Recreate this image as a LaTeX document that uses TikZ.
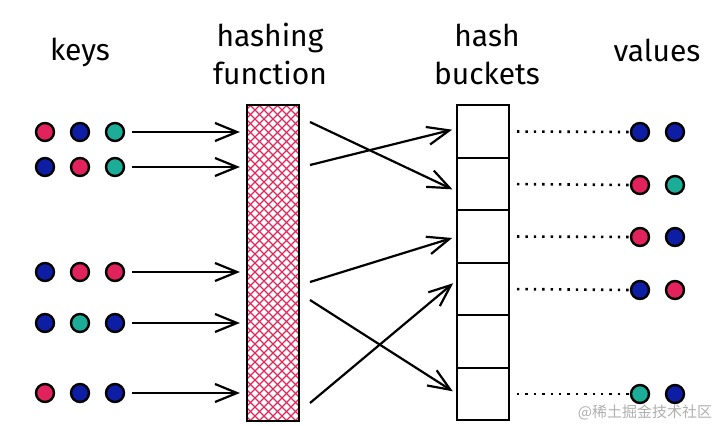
\documentclass[tikz,border=0pt]{standalone}
\usepackage{fontspec}
\setmainfont{Fira Sans}
\newfontfamily\cjkfont{Noto Sans CJK SC}
\usepackage{tikz}
\usetikzlibrary{arrows.meta, positioning}
\definecolor{keyred}{RGB}{226, 34, 92}
\definecolor{keyblue}{RGB}{14, 30, 164}
\definecolor{keyteal}{RGB}{28, 172, 152}
\definecolor{hatchpink}{RGB}{222, 40, 92}
\definecolor{markgray}{RGB}{175, 175, 175}

\begin{document}
\begin{tikzpicture}[x=1pt, y=-1pt,
      dot/.style={
        circle, draw=black, line width=2.4pt, fill=#1,
        minimum size=18pt, inner sep=0pt
      },
      bucket/.style={
        rectangle, draw=black, line width=2.2pt, outer sep=0pt,
        minimum width=52pt, minimum height=52.5pt
      },
      title/.style={font=\fontsize{30}{38}\selectfont, align=center},
      hatchline/.style={draw=hatchpink, line width=1.3pt},
      arr/.style={-{Straight Barb[length=22pt, width=18pt]}, line width=2.2pt},
      dotline/.style={line width=2.6pt, dash pattern=on 2.4pt off 6pt}
  ]
    \useasboundingbox (0,0) rectangle (716,426);

    % titles
    \node[title] (tkeys)   at (80,52)  {keys};
    \node[title] (thash)   at (270,54) {hashing\\function};
    \node[title] (tbucket) at (487,54) {hash\\buckets};
    \node[title] (tvalues) at (657,50) {values};

    % keys
    \node[dot=keyred]  (k11) at (45,132) {};
    \node[dot=keyblue] (k12) at (80,132) {};
    \node[dot=keyteal] (k13) at (115,132) {};
    \node[dot=keyblue] (k21) at (45,167) {};
    \node[dot=keyred]  (k22) at (80,167) {};
    \node[dot=keyteal] (k23) at (115,167) {};
    \node[dot=keyblue] (k31) at (45,272) {};
    \node[dot=keyred]  (k32) at (80,272) {};
    \node[dot=keyred]  (k33) at (115,272) {};
    \node[dot=keyblue] (k41) at (45,323) {};
    \node[dot=keyteal] (k42) at (80,323) {};
    \node[dot=keyblue] (k43) at (115,323) {};
    \node[dot=keyred]  (k51) at (45,393) {};
    \node[dot=keyblue] (k52) at (80,393) {};
    \node[dot=keyblue] (k53) at (115,393) {};

    % hashing function
    \node[draw=black, line width=2.2pt, minimum width=52pt, minimum height=316pt,
          path picture={
            \foreach \k in {0,...,42} {
              \draw[hatchline] ([xshift=\k*9pt-330pt]path picture bounding box.south west) -- ++(400pt,400pt);
              \draw[hatchline] ([xshift=\k*9pt-330pt]path picture bounding box.north west) -- ++(400pt,-400pt);
            }
          }] (hashfn) at (273,263) {};

    % hash buckets
    \node[bucket] (b1) at (483,131.5) {};
    \node[bucket] (b2) [below=0pt of b1] {};
    \node[bucket] (b3) [below=0pt of b2] {};
    \node[bucket] (b4) [below=0pt of b3] {};
    \node[bucket] (b5) [below=0pt of b4] {};
    \node[bucket] (b6) [below=0pt of b5] {};

    % values
    \node[dot=keyblue] (v11) at (640,132) {};
    \node[dot=keyblue] (v12) at (675,132) {};
    \node[dot=keyred]  (v21) at (640,185) {};
    \node[dot=keyteal] (v22) at (675,185) {};
    \node[dot=keyred]  (v31) at (640,237) {};
    \node[dot=keyblue] (v32) at (675,237) {};
    \node[dot=keyblue] (v41) at (640,290) {};
    \node[dot=keyred]  (v42) at (675,290) {};
    \node[dot=keyteal] (v51) at (640,394) {};
    \node[dot=keyblue] (v52) at (675,394) {};

    % keys into the hashing function
    \draw[arr, shorten <=7pt, shorten >=6pt] (k13) -- (k13 -| hashfn.west);
    \draw[arr, shorten <=7pt, shorten >=6pt] (k23) -- (k23 -| hashfn.west);
    \draw[arr, shorten <=7pt, shorten >=6pt] (k33) -- (k33 -| hashfn.west);
    \draw[arr, shorten <=7pt, shorten >=6pt] (k43) -- (k43 -| hashfn.west);
    \draw[arr, shorten <=7pt, shorten >=6pt] (k53) -- (k53 -| hashfn.west);

    % hashing function into the buckets
    \coordinate (h1) at (310,122);
    \coordinate (h2) at (310,165);
    \coordinate (h3) at (310,282);
    \coordinate (h4) at (310,300);
    \coordinate (h5) at (310,403);
    \draw[arr, shorten >=5pt] (h1) -- ([yshift=-7.5pt]b2.west);
    \draw[arr, shorten >=5pt] (h2) -- ([yshift=3pt]b1.west);
    \draw[arr, shorten >=5pt] (h3) -- (b3.west);
    \draw[arr, shorten >=5pt] (h4) -- (b6.west);
    \draw[arr, shorten >=5pt] (h5) -- ([yshift=9pt]b4.west);

    % buckets to values
    \draw[dotline, shorten <=8pt, shorten >=1pt] (b1.east) -- (v11.west);
    \draw[dotline, shorten <=8pt, shorten >=1pt] (b2.east) -- (v21.west);
    \draw[dotline, shorten <=8pt, shorten >=1pt] (b3.east) -- (v31.west);
    \draw[dotline, shorten <=8pt, shorten >=1pt] (b4.east) -- (v41.west);
    \draw[dotline, shorten <=8pt, shorten >=1pt] (b6.east) -- (v51.west);

    \node[text=markgray, font=\cjkfont\fontsize{15}{15}\selectfont] (mark) at (645,412) {@稀土掘金技术社区};
  \end{tikzpicture}
\end{document}
